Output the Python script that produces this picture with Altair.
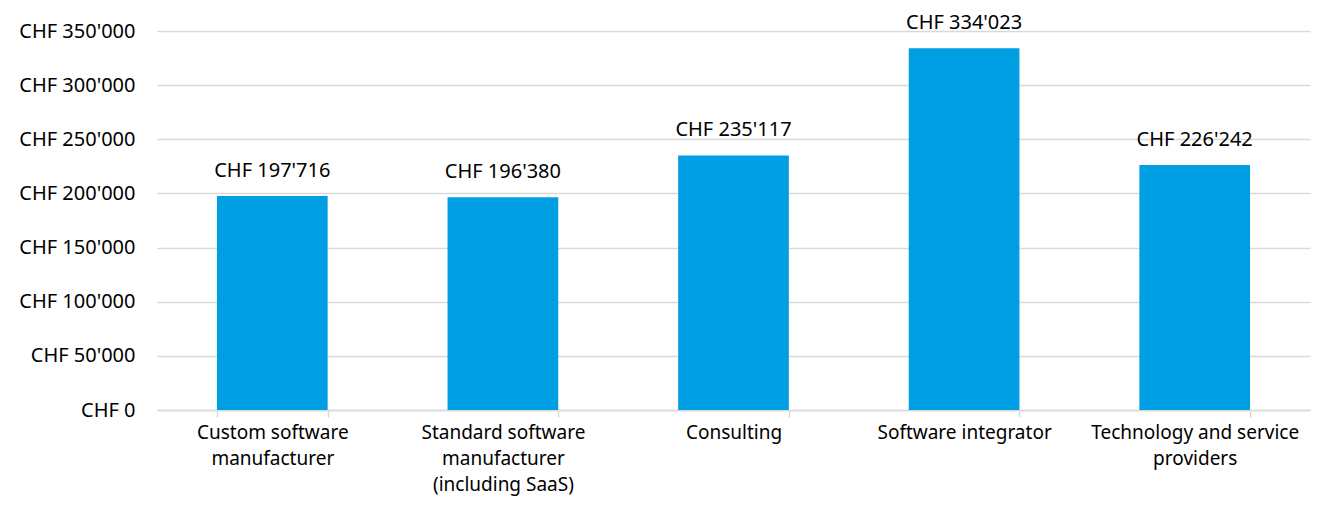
import altair as alt
import pandas as pd

categories = [
    "Custom software\nmanufacturer",
    "Standard software\nmanufacturer\n(including SaaS)",
    "Consulting",
    "Software integrator",
    "Technology and service\nproviders",
]
values = [197716, 196380, 235117, 334023, 226242]
y_ticks = [0, 50000, 100000, 150000, 200000, 250000, 300000, 350000]

df = pd.DataFrame({"cat": categories, "val": values})
df["lbl"] = ["CHF " + f"{v:,}".replace(",", "'") for v in values]

FONT = "Noto Sans"
FS = 20

x_enc = alt.X(
    "cat:N",
    sort=categories,
    title=None,
    scale=alt.Scale(paddingInner=0.52, paddingOuter=0.26),
    axis=alt.Axis(
        labelExpr="split(datum.label, '\\n')",
        labelAngle=0,
        labelFont=FONT,
        labelFontSize=19,
        labelColor="#000000",
        labelLineHeight=26,
        labelPadding=6,
        labelLimit=400,
        domainColor="#D9D9D9",
        domainWidth=1.5,
        tickColor="#D9D9D9",
        tickWidth=1.5,
        tickSize=7,
        tickBand="extent",
        grid=False,
    ),
)

y_enc = alt.Y(
    "val:Q",
    title=None,
    scale=alt.Scale(domain=[0, 350000], nice=False),
    axis=alt.Axis(
        values=y_ticks,
        labelExpr="'CHF ' + replace(format(datum.value, ','), ',', \"'\")",
        labelFont=FONT,
        labelFontSize=FS,
        labelColor="#000000",
        labelPadding=22,
        domain=False,
        ticks=False,
        grid=True,
        gridColor="#D9D9D9",
        gridWidth=1.5,
    ),
)

bars = alt.Chart(df).mark_bar(color="#009FE3").encode(x=x_enc, y=y_enc)
text = alt.Chart(df).mark_text(
    dy=-19, font=FONT, fontSize=FS, color="#000000", baseline="alphabetic"
).encode(x=alt.X("cat:N", sort=categories), y="val:Q", text="lbl:N")

chart = (
    alt.layer(bars, text)
    .properties(
        width=1153,
        height=379,
        background="white",
        autosize=alt.AutoSizeParams(type="none"),
        padding={"left": 149, "top": 23, "right": 3, "bottom": 90},
    )
    .configure_view(stroke="transparent", strokeWidth=0)
)

chart.save("out.html", embed_options={"renderer": "svg", "actions": False})
